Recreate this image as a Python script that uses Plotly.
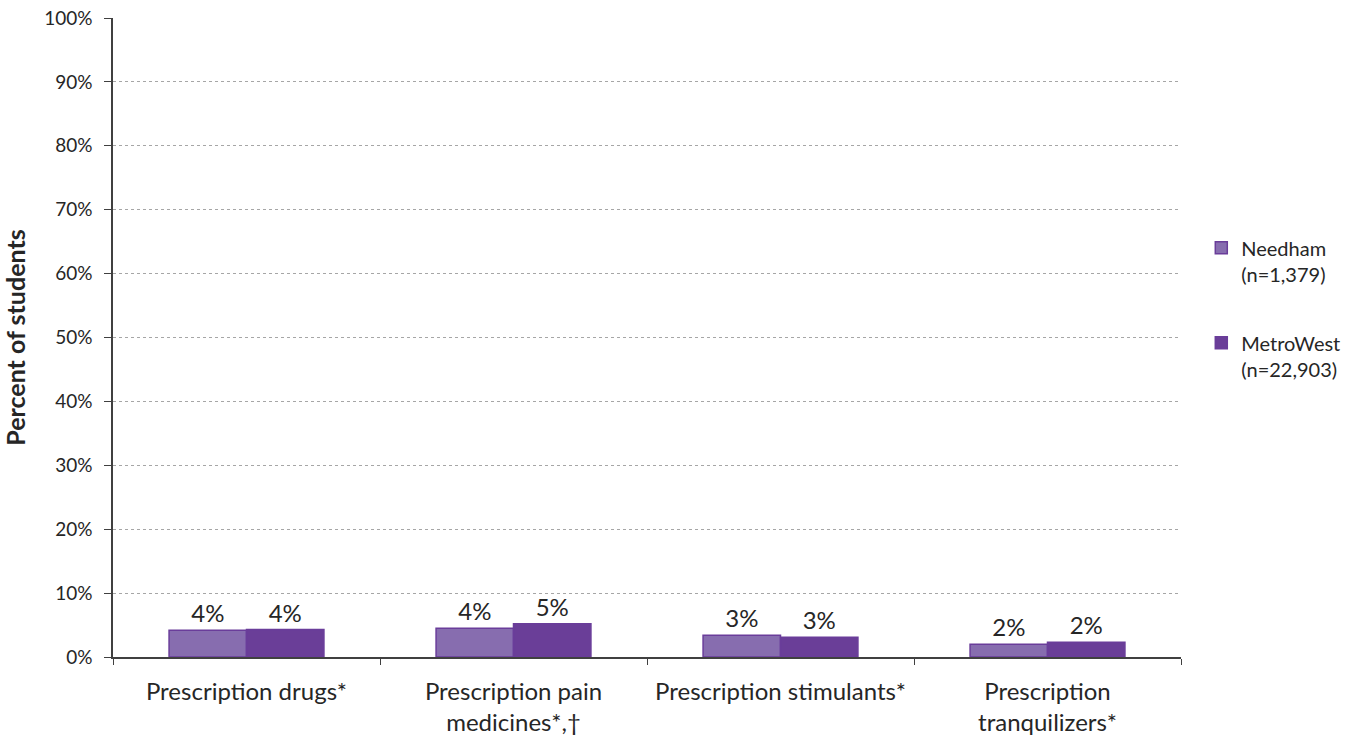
import plotly.graph_objects as go

categories = ["Prescription drugs*", "Prescription pain<br>medicines*,†",
              "Prescription stimulants*", "Prescription<br>tranquilizers*"]
needham = [4.2, 4.5, 3.4, 2.0]
metrowest = [4.3, 5.2, 3.1, 2.3]
needham_labels = ["4%", "4%", "3%", "2%"]
metrowest_labels = ["4%", "5%", "3%", "2%"]
series_names = ["Needham<br>(n=1,379)", "MetroWest<br>(n=22,903)"]
y_ticks = list(range(0, 101, 10))
y_tick_labels = [f"{v}%" for v in y_ticks]

FONT = "Lato, 'Open Sans', sans-serif"

fig = go.Figure()
fig.add_trace(go.Bar(
    x=categories, y=needham, name=series_names[0], legendgroup="g1",
    marker=dict(color="#876DAF", line=dict(color="#6A3D9A", width=1.5)),
    text=needham_labels, textposition="outside", cliponaxis=False,
    textfont=dict(size=24, color="#262626", family=FONT),
))
fig.add_trace(go.Bar(
    x=categories, y=metrowest, name=series_names[1], legendgroup="g2",
    marker=dict(color="#6A3E98", line=dict(color="#6A3D9A", width=1.5)),
    text=metrowest_labels, textposition="outside", cliponaxis=False,
    textfont=dict(size=24, color="#262626", family=FONT),
))

fig.update_layout(
    width=1351, height=737,
    margin=dict(l=113, r=170, t=18, b=80, autoexpand=False),
    plot_bgcolor="white", paper_bgcolor="white",
    barmode="group", bargap=0.42, bargroupgap=0,
    font=dict(family=FONT, size=19, color="#262626"),
    legend=dict(x=1.019, y=0.671, xanchor="left", yanchor="top", valign="top",
                font=dict(size=20, family=FONT, color="#262626"),
                tracegroupgap=40, itemwidth=30, traceorder="grouped",
                bgcolor="rgba(0,0,0,0)"),
    yaxis=dict(
        range=[0, 100], tickvals=y_ticks, ticktext=y_tick_labels,
        showgrid=True, gridcolor="#A6A6A6", griddash="dot", gridwidth=1,
        showline=True, linecolor="#404040", linewidth=1.5,
        ticks="outside", ticklen=7, tickcolor="#404040", ticklabelstandoff=8,
        ticklabeloverflow="allow",
        tickfont=dict(size=19), zeroline=False, automargin=False,
        title=dict(text="<b>Percent of students</b>", font=dict(size=25), standoff=17),
    ),
    xaxis=dict(
        showline=True, linecolor="#404040", linewidth=1.5,
        ticks="outside", ticklen=6, tickcolor="#404040", tickson="boundaries",
        ticklabelstandoff=12,
        tickfont=dict(size=24), automargin=False,
    ),
)

fig.write_html("out.html", config={"displayModeBar": False},
               post_script="document.body.style.margin='0';document.body.style.overflow='hidden';")
